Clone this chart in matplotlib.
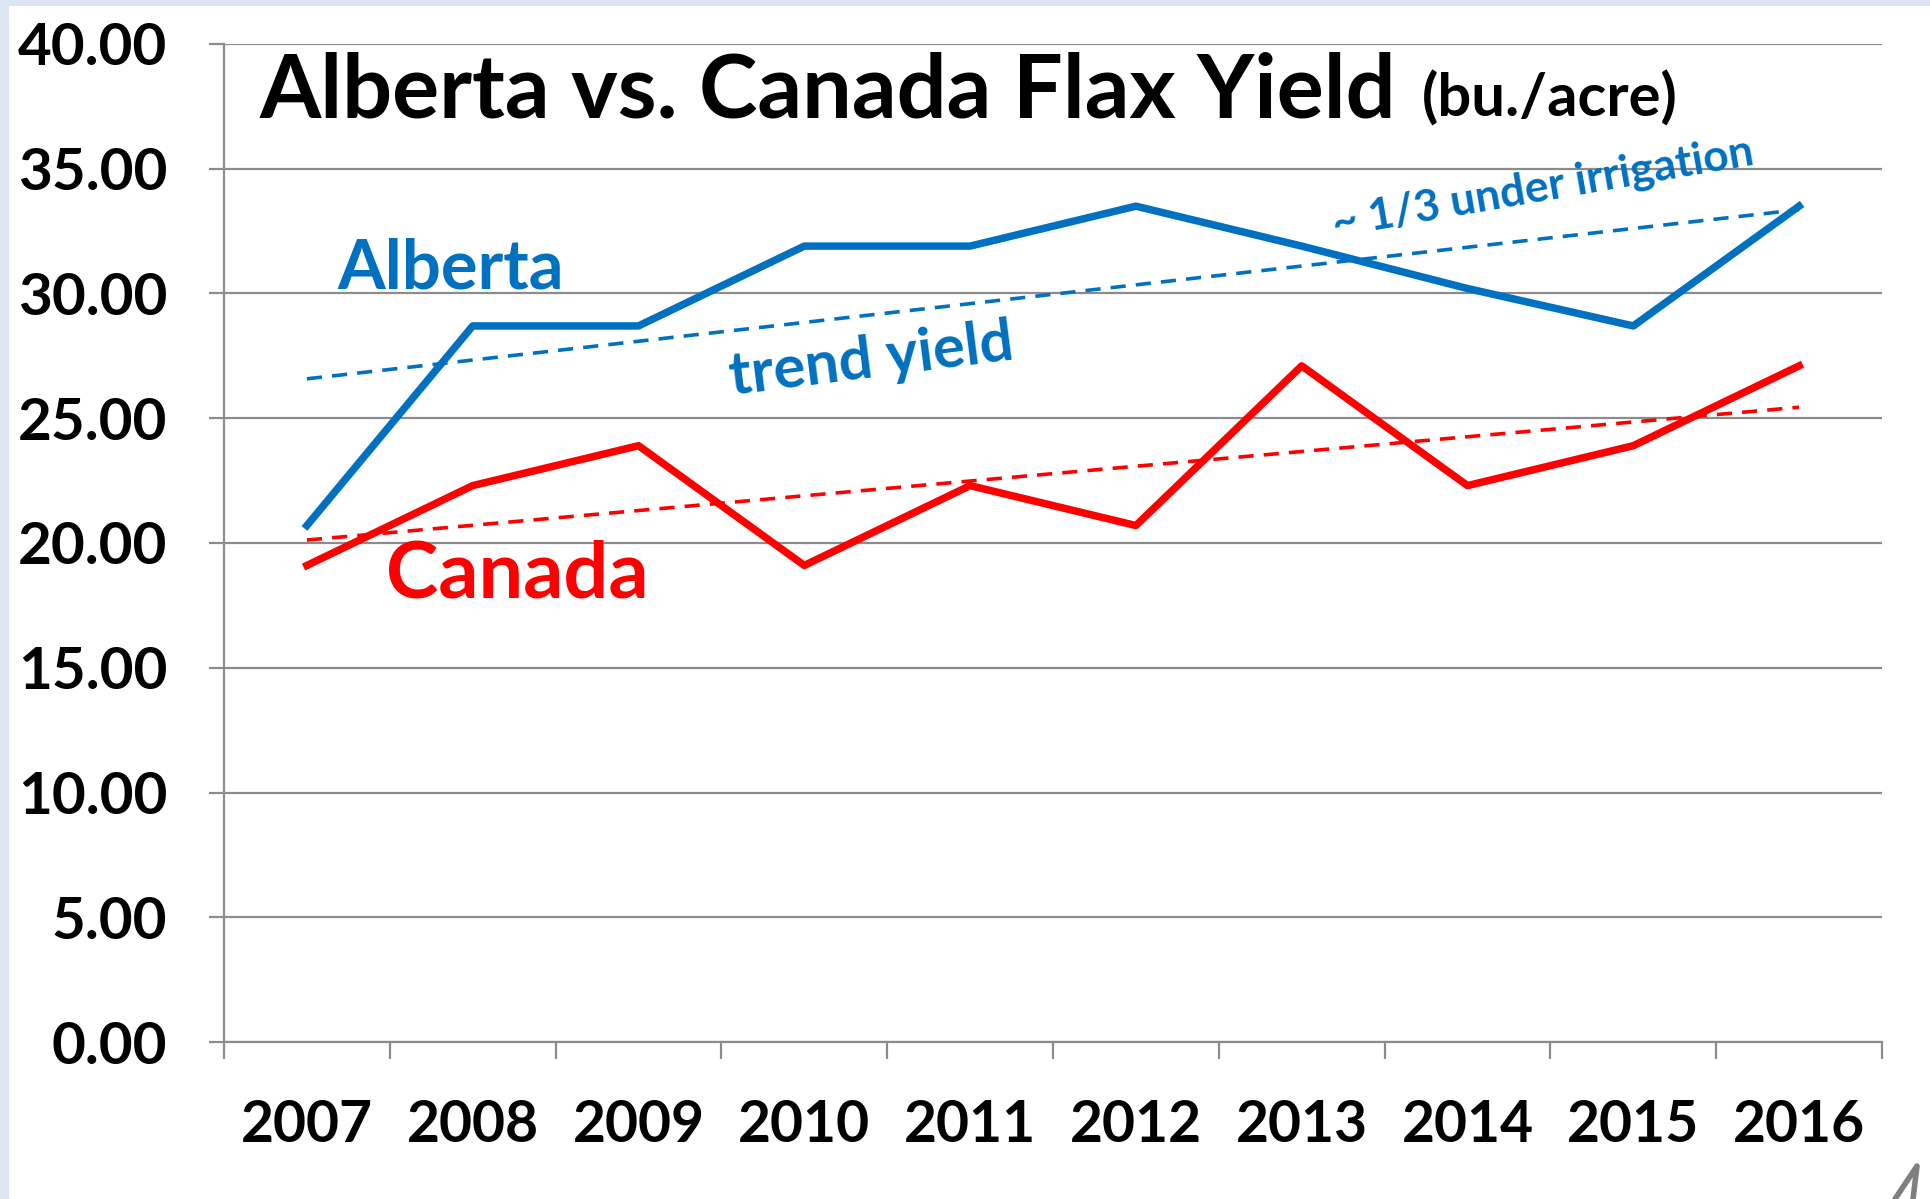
import matplotlib.pyplot as plt
import numpy as np
from matplotlib.patches import Rectangle
from matplotlib.lines import Line2D

years = ['2007', '2008', '2009', '2010', '2011', '2012', '2013', '2014', '2015', '2016']
alberta = [20.7, 28.7, 28.7, 31.9, 31.9, 33.5, 31.9, 30.2, 28.7, 33.5]
canada = [19.1, 22.3, 23.9, 19.1, 22.3, 20.7, 27.1, 22.3, 23.9, 27.1]
y_ticks = [0, 5, 10, 15, 20, 25, 30, 35, 40]

blue = '#0070C0'
red = '#FF0000'
grid_c = '#8c8c8c'
font = 'Lato'
W, H = 1931, 1199

fig = plt.figure(figsize=(19.31, 11.99), dpi=100)
fig.patch.set_facecolor('#dce6f2')
fig.patches.append(Rectangle((9 / W, 0), 1, 1 - 6 / H, transform=fig.transFigure,
                             facecolor='white', edgecolor='none', zorder=-5))

ax = fig.add_axes([224 / W, 1 - 1042 / H, (1882 - 224) / W, (1042 - 44) / H])
ax.set_facecolor('none')

x = np.arange(len(years))

# trend lines (linear fit, like excel trendline)
ka, ba = np.polyfit(x, alberta, 1)
kc, bc = np.polyfit(x, canada, 1)
ax.plot(x, ka * x + ba, color=blue, lw=2.6, dashes=(4.2, 2.8), zorder=3)
ax.plot(x, kc * x + bc, color=red, lw=2.6, dashes=(4.2, 2.8), zorder=3)

ax.plot(x, alberta, color=blue, lw=5.4, zorder=4)
ax.plot(x, canada, color=red, lw=5.4, zorder=4)

ax.set_xlim(-0.5, len(years) - 0.5)
ax.set_ylim(0, 40)
ax.set_yticks(y_ticks)
ax.set_yticklabels(['%.2f' % v for v in y_ticks], fontsize=42, fontweight='bold', fontname=font)
ax.yaxis.grid(True, color=grid_c, lw=1.6)
ax.set_axisbelow(True)

ax.set_xticks(np.arange(len(years) + 1) - 0.5)
ax.set_xticklabels([])
ax.set_xticks(x, minor=True)
ax.set_xticklabels(years, minor=True, fontsize=41, fontweight='bold', fontname=font)
ax.tick_params(axis='x', which='minor', length=0, pad=41)
ax.tick_params(axis='x', which='major', length=12, width=1.6, color=grid_c, direction='out')
ax.tick_params(axis='y', length=11, width=1.6, color=grid_c, pad=30)

for s in ('top', 'right'):
    ax.spines[s].set_visible(False)
for s in ('left', 'bottom'):
    ax.spines[s].set_color(grid_c)
    ax.spines[s].set_linewidth(1.6)

fig.text(259 / W, 1 - 117 / H, 'Alberta vs. Canada Flax Yield', fontsize=63.5,
         fontweight='bold', fontname=font, va='baseline', ha='left')
fig.text(1422 / W, 1 - 117 / H, '(bu./acre)', fontsize=43,
         fontweight='bold', fontname=font, va='baseline', ha='left')

ax.text(0.186, 30.2, 'Alberta', color=blue, fontsize=49.5, fontweight='bold', fontname=font,
        va='baseline', ha='left')
ax.text(0.475, 17.83, 'Canada', color=red, fontsize=57, fontweight='bold', fontname=font,
        va='baseline', ha='left')
ax.text(2.563, 25.93, 'trend yield', color=blue, fontsize=43, fontweight='bold', fontname=font,
        va='baseline', ha='left', rotation=7.2, rotation_mode='anchor')
ax.text(6.197, 32.28, '~ 1/3 under irrigation', color=blue, fontsize=32, fontweight='bold',
        fontname=font, va='baseline', ha='left', rotation=9.8, rotation_mode='anchor')

# bit of a logo cut off at the bottom right corner
fig.add_artist(Line2D([1895 / W, 1917 / W, 1913 / W], [0, 1 - 1166 / H, 0],
                      transform=fig.transFigure, color='#7f7f7f', lw=4,
                      solid_capstyle='round', solid_joinstyle='round'))

fig.savefig('out.png', dpi=100, facecolor=fig.get_facecolor())
